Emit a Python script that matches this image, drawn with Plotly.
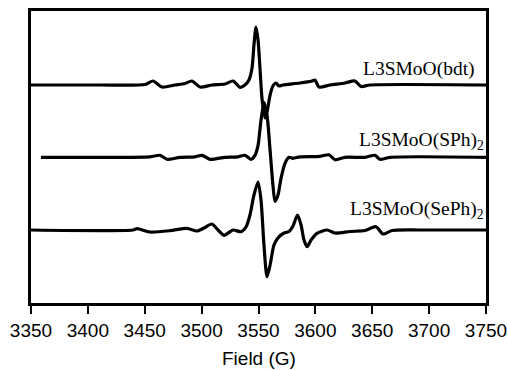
import plotly.graph_objects as go

# ---- data (field in G, intensity in arbitrary units relative to each baseline) ----
bdt_field = [3350, 3410.7, 3450.2, 3457.3, 3465.2, 3476.6, 3485.4, 3491.5, 3498.6, 3509.1,
             3520.5, 3527.6, 3533.7, 3538.1, 3541.6, 3544.3, 3546.0, 3547.8, 3549.6, 3551.4,
             3553.2, 3555.8, 3557.5, 3560.2, 3562.7, 3565.4, 3568.0, 3571.5, 3586.5, 3597.0,
             3599.7, 3603.2, 3612.9, 3626.0, 3634.8, 3640.1, 3648.0, 3750]
bdt_int = [0, 0, 0.5, 4, -2, 0, 1.5, 4, -2, 0,
           1, 4, -2.3, 0, 5, 17, 40, 58, 45, 15,
           -15, -33, -27, -10, -1, 2, -1, 0, 2, 4,
           5, -2, 0, 2, 4, -1.5, 0, 0]

sph_field = [3358.8, 3410.7, 3454.6, 3463.4, 3469.6, 3481.0, 3494.2, 3500.3, 3507.4, 3520.5,
             3532.0, 3538.1, 3543.4, 3546.9, 3549.6, 3552.2, 3554.9, 3557.5, 3560.2, 3562.7,
             3564.5, 3567.1, 3569.8, 3573.3, 3576.8, 3580.3, 3586.5, 3604.1, 3612.0, 3617.3,
             3626.0, 3643.6, 3652.4, 3656.8, 3665.6, 3750]
sph_int = [0, 0, 0.5, 2, -2, 0, 0.5, 2, -2, 0,
           0.5, 2, -2, 2, 12, 37, 55, 42, 7, -28,
           -44, -38, -21, -6, 0, -1, 0.5, 1, 2.5, -2.5,
           0, 0, 2, -2, 0, 0]

seph_field = [3350, 3439.7, 3443.2, 3454.6, 3472.2, 3487.1, 3495.9, 3502.1, 3509.1, 3514.4,
              3519.7, 3527.6, 3534.6, 3539.0, 3542.5, 3546.0, 3549.6, 3552.2, 3554.8, 3557.5,
              3560.2, 3563.6, 3567.1, 3572.4, 3576.8, 3580.3, 3584.3, 3587.4, 3590.0, 3592.7,
              3596.2, 3601.4, 3610.2, 3617.3, 3630.4, 3643.6, 3653.3, 3659.5, 3667.4, 3692.0, 3750]
seph_int = [0, 0, 1.3, -2, -0.7, 1.7, -1, 2, 6, 0,
            -5.3, 0, -1.7, 3, 15, 35, 48, 30, -15, -46.7,
            -35, -15, -8, -3, -1.5, 4, 15, 5, -10, -16.7,
            -10, -3.3, 0, -3, -1.5, -0.5, 3.3, -4, -0.5, 0, 0]

labels = ["L3SMoO(bdt)", "L3SMoO(SPh)<sub>2</sub>", "L3SMoO(SePh)<sub>2</sub>"]
offsets = [218, 145.7, 73]
x_ticks = [3350, 3400, 3450, 3500, 3550, 3600, 3650, 3700, 3750]
x_title = "Field (G)"

series = [(bdt_field, bdt_int), (sph_field, sph_int), (seph_field, seph_int)]

fig = go.Figure()
for (fx, fy), off in zip(series, offsets):
    fig.add_trace(go.Scatter(
        x=fx, y=[off + v for v in fy], mode="lines",
        line=dict(color="black", width=3.2, shape="spline", smoothing=0.7),
        showlegend=False, hoverinfo="skip"))

label_y = [234, 162, 93]
for txt, ly in zip(labels, label_y):
    fig.add_annotation(x=3750 if "sub" in txt else 3742, y=ly, xref="x", yref="y",
                       text=txt, showarrow=False, xanchor="right", yanchor="middle",
                       font=dict(family="Liberation Serif", size=19.5, color="black"))

# x-axis title placed as a paper-anchored text below the tick labels
fig.add_annotation(x=0.5, y=-0.19, xref="paper", yref="paper", text=x_title,
                   showarrow=False, xanchor="center", yanchor="middle",
                   font=dict(family="Liberation Sans", size=19, color="black"))

fig.update_layout(
    width=508, height=370,
    margin=dict(l=31, r=22, t=11, b=67, autoexpand=False),
    paper_bgcolor="white", plot_bgcolor="white",
    xaxis=dict(range=[3350, 3750], tickvals=x_ticks, ticktext=[str(t) for t in x_ticks],
               ticks="outside", ticklen=8, tickwidth=2, tickcolor="black",
               ticklabelstandoff=0,
               showline=True, linecolor="black", linewidth=2.5, mirror=True,
               showgrid=False, zeroline=False, automargin=False,
               tickfont=dict(family="Liberation Sans", size=19, color="black")),
    yaxis=dict(range=[0, 292], showticklabels=False, ticks="",
               showline=True, linecolor="black", linewidth=2.5, mirror=True,
               showgrid=False, zeroline=False, automargin=False),
)

fig.write_html("out.html", config={"displayModeBar": False},
               post_script="document.body.style.margin='0';document.body.style.overflow='hidden';")
